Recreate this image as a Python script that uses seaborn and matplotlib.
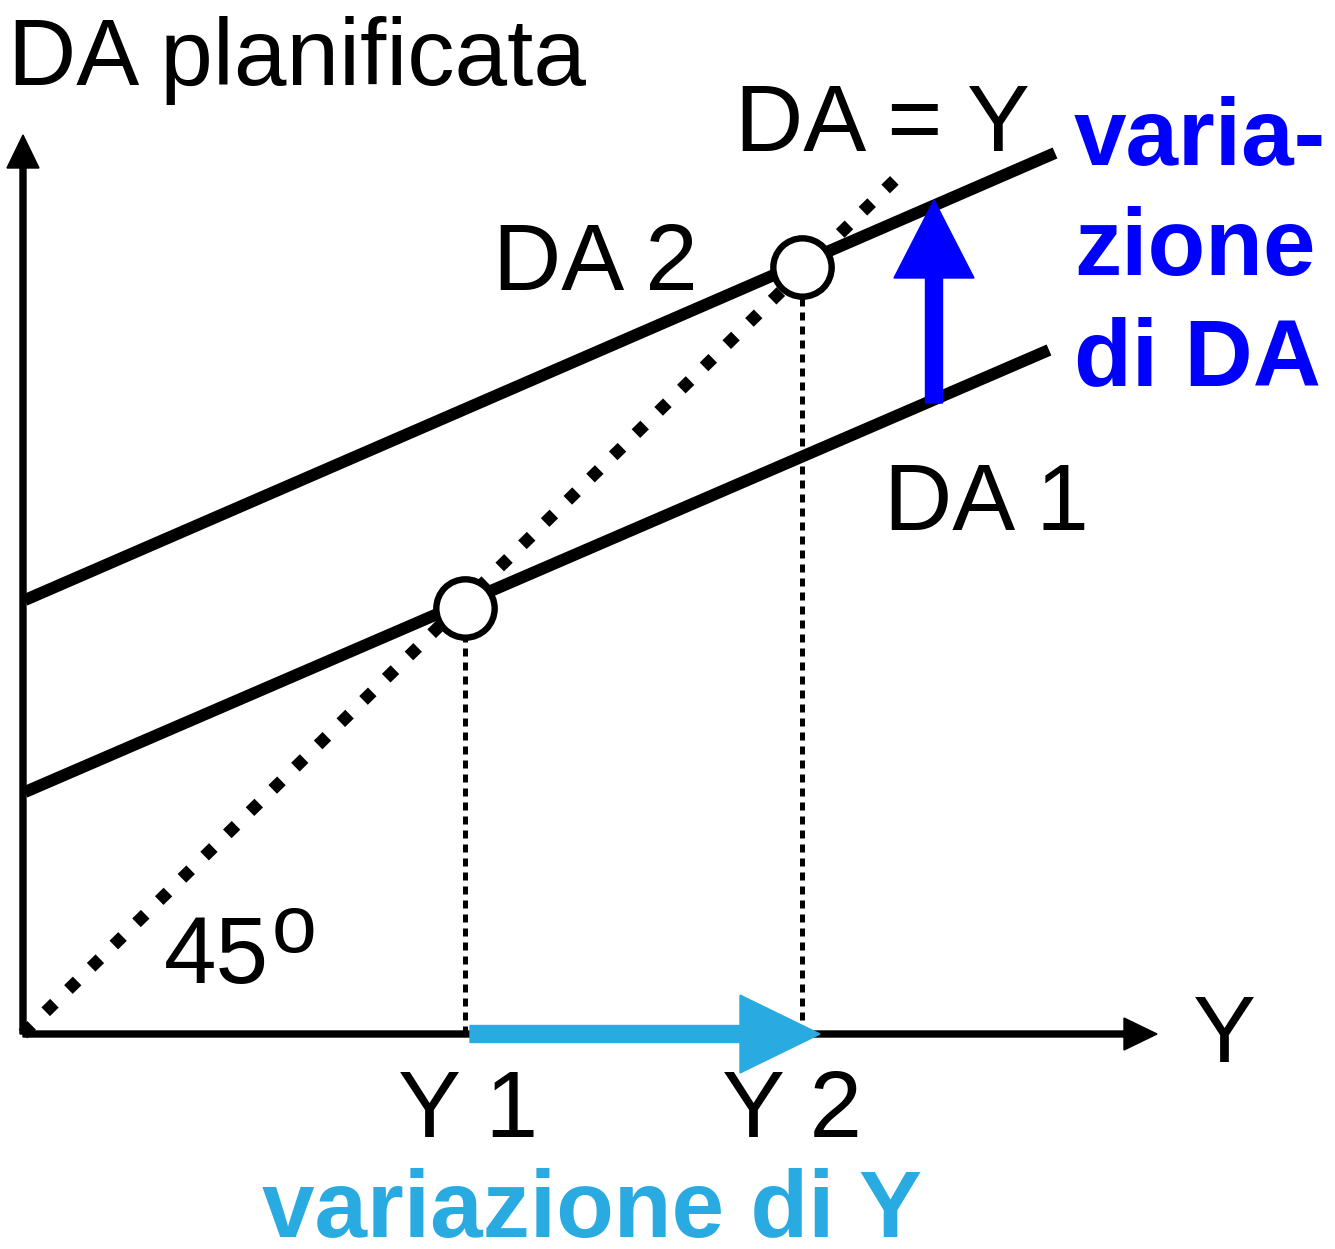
import matplotlib
matplotlib.use("Agg")
import matplotlib.pyplot as plt
import seaborn as sns
import pandas as pd

sns.set_theme(style="white")
plt.rcParams['font.family'] = ['Liberation Sans', 'DejaVu Sans']
plt.rcParams['text.color'] = 'black'

# ---- data (economic coordinates, origin at the axes corner) ----
da1_x = [2, 1026]
da1_y = [242, 684]
da2_x = [2, 1032]
da2_y = [434, 881]
line45_x = [0, 882]
line45_y = [0, 864]
eq_x = [442, 779]          # Y1, Y2
eq_y = [426, 767]
tick_labels = ["Y 1", "Y 2"]
line_labels = ["DA 1", "DA 2"]

BLACK = "#000000"
BLUE = "#0000FF"
LIGHT = "#29ABE2"

fig = plt.figure(figsize=(13.35, 12.49), dpi=100)
ax = fig.add_axes([0, 0, 1, 1])
ax.set_xlim(-23, 1312)
ax.set_ylim(-215, 1034)
ax.axis("off")

def P(px, py):
    return px - 23, 1034 - py

df = pd.DataFrame({
    "Y": da1_x + da2_x,
    "DA": da1_y + da2_y,
    "curve": [line_labels[0]] * 2 + [line_labels[1]] * 2,
})
sns.lineplot(data=df, x="Y", y="DA", units="curve", estimator=None,
             color=BLACK, lw=8.6, solid_capstyle="butt", ax=ax, legend=False, zorder=3)

# 45 degree line
ax.plot(line45_x, line45_y, color=BLACK, lw=8.8, linestyle=(0, (1, 1.6)),
        dash_capstyle="butt", zorder=2)

# vertical dotted guides
for x, y in zip(eq_x, eq_y):
    ax.plot([x, x], [0, y - 28], color=BLACK, lw=3.6, linestyle=(0, (1.6, 1.2)),
            dash_capstyle="butt", zorder=2)

# equilibrium circles
ax.plot(eq_x, eq_y, linestyle="none", marker="o", ms=42, mfc="white",
        mec=BLACK, mew=4.6, zorder=5)

# axes with arrows
ax.arrow(0, 0, 1134, 0, width=6, head_width=32, head_length=33,
         length_includes_head=True, color=BLACK, zorder=4)
ax.arrow(0, 0, 0, 899, width=6, head_width=32, head_length=33,
         length_includes_head=True, color=BLACK, zorder=4)

# shift arrows
ax.arrow(911, 631, 0, 203, width=17, head_width=80, head_length=78,
         length_includes_head=True, color=BLUE, zorder=6)
ax.arrow(447, 0, 350, 0, width=17, head_width=78, head_length=80,
         length_includes_head=True, color=LIGHT, zorder=6)

fs = 68
def T(px, py, s, **kw):
    x, y = P(px, py)
    ax.text(x, y, s, fontsize=kw.pop("fontsize", fs), ha=kw.pop("ha", "left"),
            va=kw.pop("va", "baseline"), color=kw.pop("color", BLACK), **kw)

T(8, 85, "DA planificata")
T(735, 151, "DA = Y")
T(493, 290, line_labels[1])
T(884, 530, line_labels[0])
T(1074, 165, "varia-", color=BLUE, fontweight="bold")
T(1074, 275, "zione", color=BLUE, fontweight="bold")
T(1074, 385, "di DA", color=BLUE, fontweight="bold")
T(164, 983, "45")
T(272, 952, "o", fontsize=58)
T(1193, 1062, "Y")
for lbl, px in zip(tick_labels, [398, 722]):
    T(px, 1137, lbl)
T(592, 1237, "variazione di Y", color=LIGHT, fontweight="bold", ha="center")

fig.savefig("out.png", dpi=100)
